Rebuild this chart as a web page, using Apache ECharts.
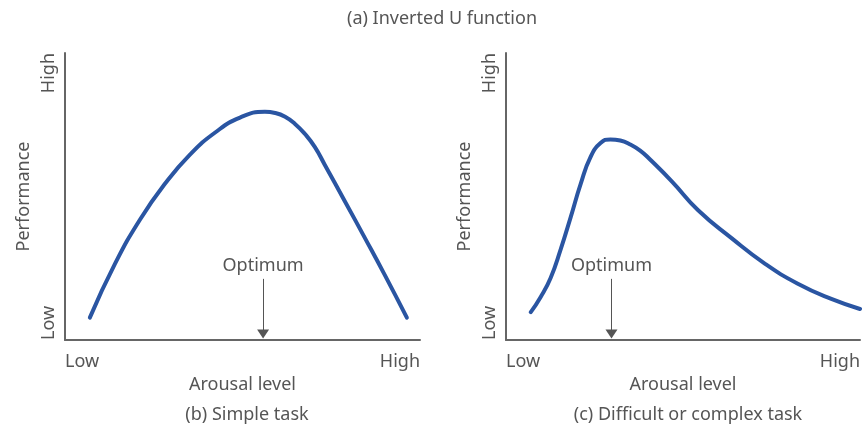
<!DOCTYPE html>
<html>
<head>
<meta charset="utf-8">
<script src="https://cdn.jsdelivr.net/npm/echarts@6/dist/echarts.min.js"></script>
<style>
    html, body { margin: 0; padding: 0; background: #fff; }
    #chart { width: 863px; height: 428px; }
</style>
</head>
<body>
<div id="chart"></div>
<script>
    // simple task curve, arousal (0-100) vs performance (0-100)
    var simpleX = [7.0, 14.1, 21.1, 28.2, 35.2, 42.3, 49.3, 56.3, 59.2, 62.0, 64.8, 67.6, 70.4, 73.2, 78.9, 84.5, 90.1, 96.3];
    var simpleY = [7.8, 26.6, 41.9, 54.5, 64.6, 72.3, 77.5, 79.5, 79.1, 77.8, 75.3, 71.8, 67.2, 61.0, 48.2, 35.5, 22.6, 7.8];
    // difficult / complex task curve
    var complexX = [7.0, 9.8, 12.6, 15.4, 18.3, 21.1, 23.9, 26.7, 29.5, 32.3, 35.1, 37.9, 40.7, 46.9, 54.2, 63.8, 73.0, 82.3, 91.9, 100];
    var complexY = [9.7, 15.0, 21.6, 31.4, 42.9, 54.4, 63.8, 68.6, 69.9, 69.5, 68.1, 66.0, 62.9, 55.2, 45.3, 35.4, 26.7, 19.7, 14.3, 10.8];
    // optimum arousal for each task
    var optimum = [55.8, 29.8];
    var tickLabels = ['Low', 'High'];

    var font = 'Noto Sans';
    var fs = 18;
    var textColor = '#555';
    var blue = '#2a55a2';

    function pairs(xs, ys) {
        return xs.map(function (x, i) { return [x, ys[i]]; });
    }

    function xAxis(idx) {
        return {
            type: 'value', gridIndex: idx, min: 0, max: 100, interval: 100,
            name: 'Arousal level', nameLocation: 'middle', nameGap: 35,
            nameTextStyle: { color: textColor, fontSize: fs, fontFamily: font },
            axisLine: { lineStyle: { color: '#666', width: 2 } },
            axisTick: { show: false },
            splitLine: { show: false },
            axisLabel: {
                color: textColor, fontSize: fs, fontFamily: font, margin: 13,
                alignMinLabel: 'left', alignMaxLabel: 'right',
                formatter: function (v) { return v === 0 ? tickLabels[0] : tickLabels[1]; }
            }
        };
    }

    function yAxis(idx) {
        return {
            type: 'value', gridIndex: idx, min: 0, max: 100, interval: 100,
            name: 'Performance', nameLocation: 'middle', nameGap: 32,
            nameTextStyle: { color: textColor, fontSize: fs, fontFamily: font },
            axisLine: { show: true, lineStyle: { color: '#666', width: 2 } },
            axisTick: { show: false },
            splitLine: { show: false },
            axisLabel: {
                color: textColor, fontSize: fs, fontFamily: font, margin: 7, rotate: 90,
                alignMinLabel: 'left', alignMaxLabel: 'right',
                formatter: function (v) { return v === 0 ? tickLabels[0] : tickLabels[1]; }
            }
        };
    }

    function curve(idx, data, opt) {
        return {
            type: 'line', xAxisIndex: idx, yAxisIndex: idx,
            data: data, smooth: true, showSymbol: false, clip: false,
            lineStyle: { color: blue, width: 4, cap: 'round' },
            markLine: {
                silent: true,
                symbol: ['none', 'triangle'],
                symbolSize: [12, 9],
                lineStyle: { color: '#555', width: 1, type: 'solid' },
                label: {
                    show: true, position: 'start', distance: 4,
                    formatter: 'Optimum', color: textColor, fontSize: fs, fontFamily: font
                },
                data: [[{ coord: [opt, 21.3] }, { coord: [opt, 2.1] }]]
            }
        };
    }

    var chart = echarts.init(document.getElementById('chart'));
    chart.setOption({
        animation: false,
        title: [
            { text: '(a) Inverted U function', left: 437, top: 5, textAlign: 'center',
              textStyle: { color: textColor, fontSize: fs, fontWeight: 'normal', fontFamily: font } },
            { text: '(b) Simple task', left: 242, top: 401, textAlign: 'center',
              textStyle: { color: textColor, fontSize: fs, fontWeight: 'normal', fontFamily: font } },
            { text: '(c) Difficult or complex task', left: 683, top: 401, textAlign: 'center',
              textStyle: { color: textColor, fontSize: fs, fontWeight: 'normal', fontFamily: font } }
        ],
        grid: [
            { left: 65, right: 443, top: 53, bottom: 88 },
            { left: 506, right: 1, top: 53, bottom: 88 }
        ],
        xAxis: [xAxis(0), xAxis(1)],
        yAxis: [yAxis(0), yAxis(1)],
        series: [
            curve(0, pairs(simpleX, simpleY), optimum[0]),
            curve(1, pairs(complexX, complexY), optimum[1])
        ]
    });
</script>
</body>
</html>
